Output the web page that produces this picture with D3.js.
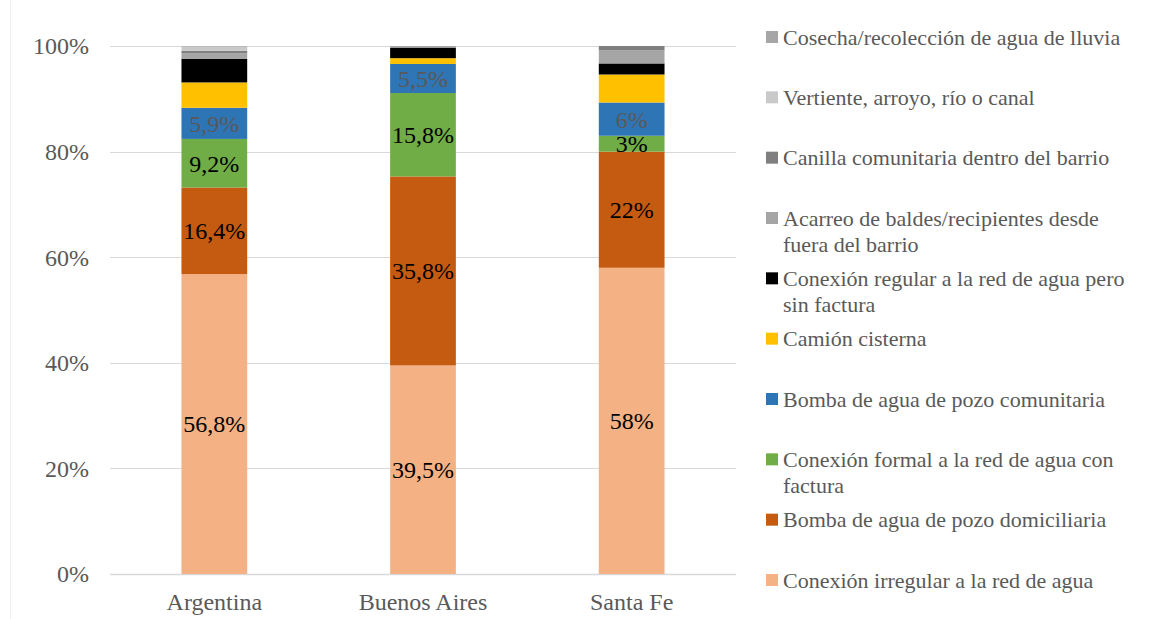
<!DOCTYPE html>
<html lang="es">
<head>
<meta charset="UTF-8">
<title>Acceso al agua</title>
<script src="https://d3js.org/d3.v7.min.js"></script>
<style>
  body { margin: 0; background: #fff; }
  svg { display: block; font-family: "Liberation Serif", "Times New Roman", serif; }
  .axis text { fill: #595959; font-size: 24px; font-family: "Liberation Serif", "Times New Roman", serif; }
  .legend text { fill: #595959; font-size: 22px; }
</style>
</head>
<body>
<div id="chart"></div>
<script>
// categorias (eje x)
const regions = ["Argentina", "Buenos Aires", "Santa Fe"];

// series, de abajo hacia arriba en la pila
const seriesNames = [
  "Conexión irregular a la red de agua",
  "Bomba de agua de pozo domiciliaria",
  "Conexión formal a la red de agua con factura",
  "Bomba de agua de pozo comunitaria",
  "Camión cisterna",
  "Conexión regular a la red de agua pero sin factura",
  "Acarreo de baldes/recipientes desde fuera del barrio",
  "Canilla comunitaria dentro del barrio",
  "Vertiente, arroyo, río o canal",
  "Cosecha/recolección de agua de lluvia"
];
const seriesColors = ["#F4B183", "#C55A11", "#70AD47", "#2E75B6", "#FFC000",
                      "#000000", "#A5A5A5", "#7F7F7F", "#C9C9C9", "#A6A6A6"];

// porcentajes por serie: [Argentina, Buenos Aires, Santa Fe]
const irregular   = [56.8, 39.5, 58.0];
const bombaDom    = [16.4, 35.8, 22.0];
const formal      = [9.2, 15.8, 3.0];
const bombaCom    = [5.9, 5.5, 6.3];
const camion      = [4.8, 1.1, 5.3];
const sinFactura  = [4.5, 2.0, 2.1];
const acarreo     = [1.0, 0.3, 2.5];
const canilla     = [0.5, 0.0, 0.8];
const vertiente   = [0.8, 0.0, 0.0];
const cosecha     = [0.1, 0.0, 0.0];

// etiquetas visibles (null = sin etiqueta)
const labelsIrregular = ["56,8%", "39,5%", "58%"];
const labelsBombaDom  = ["16,4%", "35,8%", "22%"];
const labelsFormal    = ["9,2%", "15,8%", "3%"];
const labelsBombaCom  = ["5,9%", "5,5%", "6%"];

const seriesValues = [irregular, bombaDom, formal, bombaCom, camion, sinFactura,
                      acarreo, canilla, vertiente, cosecha];
const seriesLabels = [labelsIrregular, labelsBombaDom, labelsFormal, labelsBombaCom,
                      null, null, null, null, null, null];
const labelColors  = ["#000", "#000", "#000", "#595959"];

const yTicks = [0, 20, 40, 60, 80, 100];

const width = 1158, height = 619;
const margin = { top: 46, left: 110, plotRight: 736, bottom: 574 };

const svg = d3.select("#chart").append("svg")
  .attr("width", width).attr("height", height);

// borde tenue del area del grafico
svg.append("line")
  .attr("x1", 10.5).attr("x2", 10.5).attr("y1", 0).attr("y2", height)
  .attr("stroke", "#F0F0F0");

const x = d3.scaleBand().domain(regions)
  .range([margin.left, margin.plotRight]).paddingInner(0.685).paddingOuter(0.3425);
const y = d3.scaleLinear().domain([0, 100]).range([margin.bottom, margin.top]);

// lineas de la grilla
svg.append("g")
  .selectAll("line").data(yTicks).join("line")
  .attr("x1", margin.left).attr("x2", margin.plotRight)
  .attr("y1", d => Math.round(y(d)) + 0.5).attr("y2", d => Math.round(y(d)) + 0.5)
  .attr("stroke", "#D9D9D9").attr("stroke-width", d => d === 0 ? 1.5 : 1.2);

// eje y
const yAxis = svg.append("g").attr("class", "axis")
  .attr("transform", `translate(${margin.left},0)`)
  .call(d3.axisLeft(y).tickValues(yTicks).tickFormat(d => d + "%").tickSize(0).tickPadding(21));
yAxis.attr("font-family", null).attr("font-size", null);
yAxis.select(".domain").remove();
yAxis.selectAll("text").attr("dy", "0.33em");

// eje x
const xAxis = svg.append("g").attr("class", "axis")
  .attr("transform", `translate(0,${margin.bottom})`)
  .call(d3.axisBottom(x).tickSize(0).tickPadding(19));
xAxis.attr("font-family", null).attr("font-size", null);
xAxis.select(".domain").remove();

// datos apilados
const rows = regions.map((r, i) => {
  const o = { region: r };
  seriesNames.forEach((s, k) => { o[s] = seriesValues[k][i]; });
  return o;
});
const stacked = d3.stack().keys(seriesNames)(rows);

const layers = svg.append("g").selectAll("g").data(stacked).join("g")
  .attr("fill", (d, k) => seriesColors[k]);

layers.selectAll("rect").data(d => d).join("rect")
  .attr("x", d => x(d.data.region))
  .attr("width", x.bandwidth())
  .attr("y", d => y(d[1]))
  .attr("height", d => y(d[0]) - y(d[1]));

// etiquetas de datos
stacked.forEach((layer, k) => {
  const labels = seriesLabels[k];
  if (!labels) return;
  svg.append("g").selectAll("text").data(layer).join("text")
    .attr("x", d => x(d.data.region) + x.bandwidth() / 2)
    .attr("y", d => (y(d[0]) + y(d[1])) / 2)
    .attr("dy", "0.35em")
    .attr("text-anchor", "middle")
    .attr("font-size", 24)
    .attr("fill", labelColors[k])
    .text((d, i) => labels[i]);
});

// leyenda (orden inverso)
const legendItems = seriesNames.map((n, k) => ({ name: n, color: seriesColors[k] })).reverse();
const legendWrap = {
  "Acarreo de baldes/recipientes desde fuera del barrio": ["Acarreo de baldes/recipientes desde", "fuera del barrio"],
  "Conexión regular a la red de agua pero sin factura": ["Conexión regular a la red de agua pero", "sin factura"],
  "Conexión formal a la red de agua con factura": ["Conexión formal a la red de agua con", "factura"]
};
const legendY = d3.scalePoint().domain(legendItems.map(d => d.name)).range([37, 580]);

const legend = svg.append("g").attr("class", "legend")
  .selectAll("g").data(legendItems).join("g")
  .attr("transform", d => `translate(766,${legendY(d.name)})`);

legend.append("rect")
  .attr("x", 0).attr("y", -6).attr("width", 12).attr("height", 12)
  .attr("fill", d => d.color);

legend.append("text")
  .attr("x", 17).attr("y", 0)
  .selectAll("tspan").data(d => legendWrap[d.name] || [d.name]).join("tspan")
  .attr("x", 17)
  .attr("dy", (t, i) => i === 0 ? "0.35em" : "26px")
  .text(t => t);
</script>
</body>
</html>
